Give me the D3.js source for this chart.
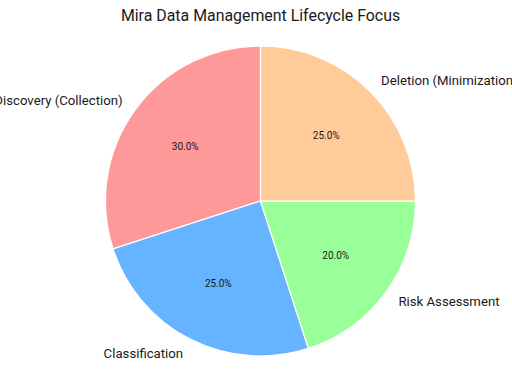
<!DOCTYPE html>
<html>
<head>
<meta charset="utf-8">
<script src="https://cdn.jsdelivr.net/npm/d3@7"></script>
<style>
  body { margin: 0; background: #fff; }
  svg { display: block; font-family: Roboto, "Open Sans", sans-serif; }
</style>
</head>
<body>
<svg id="chart" width="512" height="384"></svg>
<script>
// chart data
const categories = ["Discovery (Collection)", "Classification", "Risk Assessment", "Deletion (Minimization)"];
const shares = [30, 25, 20, 25];
const colors = ["#ff9999", "#66b3ff", "#99ff99", "#ffcc99"];

const width = 512, height = 384;
const cx = 260.5, cy = 201, radius = 155;

const svg = d3.select("#chart");

svg.append("text")
  .attr("x", width / 2 + 4.5)
  .attr("y", 21)
  .attr("text-anchor", "middle")
  .style("font-size", "15.9px")
  .style("fill", "#1a1a1a")
  .text("Mira Data Management Lifecycle Focus");

// matplotlib style: start at top, go counter-clockwise
const pie = d3.pie()
  .sort(null)
  .value(d => d)
  .startAngle(0)
  .endAngle(-2 * Math.PI);

const arcs = pie(shares);
const arc = d3.arc().innerRadius(0).outerRadius(radius);

const g = svg.append("g").attr("transform", `translate(${cx},${cy})`);

g.selectAll("path")
  .data(arcs)
  .enter()
  .append("path")
  .attr("d", arc)
  .style("fill", (d, i) => colors[i])
  .style("stroke", "#fff")
  .style("stroke-width", 1.2);

// position helper: d3 angle 0 = top, clockwise
function pos(d, r) {
  const a = (d.startAngle + d.endAngle) / 2;
  return [r * Math.sin(a), -r * Math.cos(a)];
}

g.selectAll("text.label")
  .data(arcs)
  .enter()
  .append("text")
  .attr("class", "label")
  .attr("x", d => pos(d, radius * 1.1)[0])
  .attr("y", d => pos(d, radius * 1.1)[1])
  .attr("dy", "0.35em")
  .attr("text-anchor", d => pos(d, 1)[0] < 0 ? "end" : "start")
  .style("font-size", "13.2px")
  .style("fill", "#1a1a1a")
  .text((d, i) => categories[i]);

g.selectAll("text.pct")
  .data(arcs)
  .enter()
  .append("text")
  .attr("class", "pct")
  .attr("x", d => pos(d, radius * 0.6)[0])
  .attr("y", d => pos(d, radius * 0.6)[1])
  .attr("dy", "0.35em")
  .attr("text-anchor", "middle")
  .style("font-size", "10px")
  .style("fill", "#1a1a1a")
  .text(d => d.data.toFixed(1) + "%");
</script>
</body>
</html>
